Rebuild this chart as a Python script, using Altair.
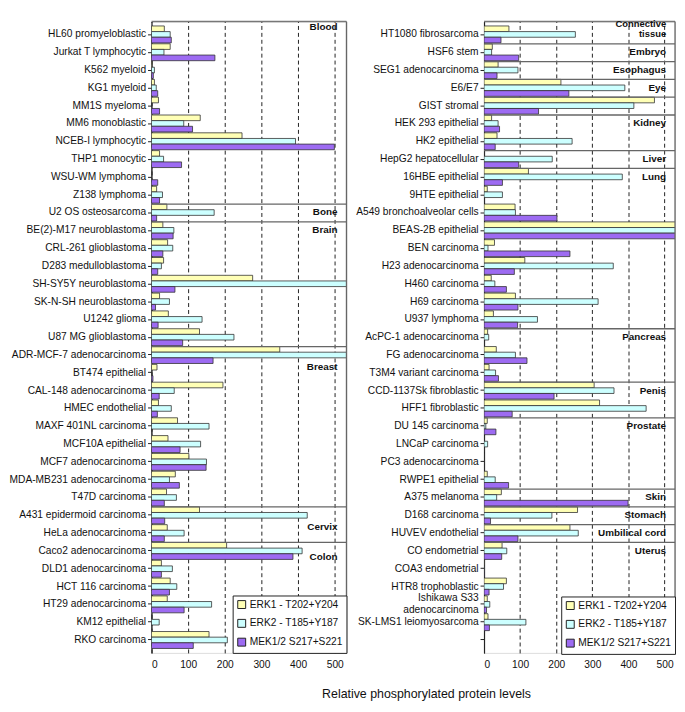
import altair as alt
import pandas as pd

FONT = "Liberation Sans"

series = ["ERK1 - T202+Y204", "ERK2 - T185+Y187", "MEK1/2 S217+S221"]
colors = ["#FFFFB5", "#CCFFFF", "#9D6BF2"]

# ---------------- left panel ----------------
left_cells = [
    "HL60 promyeloblastic", "Jurkat T lymphocytic", "K562 myeloid", "KG1 myeloid",
    "MM1S myeloma", "MM6 monoblastic", "NCEB-I lymphocytic", "THP1 monocytic",
    "WSU-WM lymphoma", "Z138 lymphoma",
    "U2 OS osteosarcoma",
    "BE(2)-M17 neuroblastoma", "CRL-261 glioblastoma", "D283 medulloblastoma",
    "SH-SY5Y neuroblastoma", "SK-N-SH neuroblastoma", "U1242 glioma", "U87 MG glioblastoma",
    "ADR-MCF-7 adenocarcinoma", "BT474 epithelial", "CAL-148 adenocarcinoma",
    "HMEC endothelial", "MAXF 401NL carcinoma", "MCF10A epithelial",
    "MCF7 adenocarcinoma", "MDA-MB231 adenocarcinoma", "T47D carcinoma",
    "A431 epidermoid carcinoma", "HeLa adenocarcinoma",
    "Caco2 adenocarcinoma", "DLD1 adenocarcinoma", "HCT 116 carcinoma",
    "HT29 adenocarcinoma", "KM12 epithelial", "RKO carcinoma",
]
left_groups = [("Blood", 10), ("Bone", 1), ("Brain", 7), ("Breast", 9), ("Cervix", 2), ("Colon", 6)]
left_erk1 = [35, 51, 2, 8, 19, 133, 247, 22, 0, 14,
             42,
             31, 44, 33, 276, 22, 46, 131,
             350, 15, 195, 19, 71, 45, 102, 65, 41,
             131, 43,
             205, 27, 51, 43, 0, 157]
left_erk2 = [51, 34, 8, 13, 0, 88, 393, 33, 0, 30,
             171,
             61, 58, 27, 560, 49, 138, 225,
             560, 0, 62, 54, 157, 134, 150, 49, 68,
             425, 89,
             411, 57, 69, 164, 21, 207]
left_mek = [54, 173, 5, 17, 22, 112, 499, 82, 17, 22,
            14,
            59, 31, 17, 64, 11, 18, 85,
            168, 4, 21, 16, 0, 78, 149, 76, 35,
            36, 35,
            386, 27, 49, 89, 0, 114]

# ---------------- right panel ----------------
right_cells = [
    "HT1080 fibrosarcoma", "HSF6 stem", "SEG1 adenocarcinoma", "E6/E7", "GIST stromal",
    "HEK 293 epithelial", "HK2 epithelial", "HepG2 hepatocellular",
    "16HBE epithelial", "9HTE epithelial", "A549 bronchoalveolar cells", "BEAS-2B epithelial",
    "BEN carcinoma", "H23 adenocarcinoma", "H460 carcinoma", "H69 carcinoma", "U937 lymphoma",
    "AcPC-1 adenocarcinoma", "FG adenocarcinoma", "T3M4 variant carcinoma",
    "CCD-1137Sk fibroblastic", "HFF1 fibroblastic",
    "DU 145 carcinoma", "LNCaP carcinoma", "PC3 adenocarcinoma", "RWPE1 epithelial",
    "A375 melanoma", "D168 carcinoma", "HUVEV endothelial",
    "CO endometrial", "COA3 endometrial", "HTR8 trophoblastic",
    "Ishikawa S33|adenocarcinoma", "SK-LMS1 leiomyosarcoma", " ",
]
right_groups = [("Connective\ntissue", 1), ("Embryo", 1), ("Esophagus", 1), ("Eye", 1), ("", 1),
                ("Kidney", 2), ("Liver", 1), ("Lung", 9), ("Pancreas", 3), ("Penis", 2),
                ("Prostate", 4), ("Skin", 1), ("Stomach", 1), ("Umbilical cord", 1), ("Uterus", 6)]
right_erk1 = [69, 23, 39, 213, 472, 21, 36, 0,
              123, 9, 86, 560, 29, 113, 20, 87, 26,
              10, 34, 14, 305, 320,
              9, 0, 0, 9, 48, 259, 238,
              50, 1, 62, 9, 11]
right_erk2 = [253, 21, 94, 390, 415, 39, 244, 189,
              383, 51, 87, 560, 11, 358, 30, 316, 148,
              13, 87, 32, 360, 449,
              5, 10, 0, 31, 35, 188, 261,
              63, 1, 54, 16, 116]
right_mek = [47, 96, 36, 235, 151, 43, 31, 96,
             51, 0, 202, 560, 238, 84, 62, 94, 93,
             0, 119, 40, 194, 78,
             33, 0, 0, 68, 399, 18, 94,
             49, 1, 14, 7, 15]

# label placement (row offset within group, band position, pixel dy, font size) -- style only
left_label_pos = {"Blood": (0, 0.0, 1, 10), "Bone": (0, 0.5, -1, 10), "Brain": (0, 0.5, 0, 10),
                  "Breast": (1, 0.0, 3, 10), "Cervix": (1, 0.0, 2, 10), "Colon": (0, 0.85, 0, 10)}
right_label_pos = {"Connective\ntissue": (0, 0.0, -1.5, 9.5)}

H = 638
LABEL_FS = 10.3
GROUP_LINE_H = 10


def panel(cells, groups, vals, width, xmax, extent, label_pos, lx, ly):
    rows = []
    for s, arr in zip(series, vals):
        for c, v in zip(cells, arr):
            rows.append({"cell": c, "series": s, "value": v})
    bars_df = pd.DataFrame(rows)
    yscale = alt.Scale(domain=cells, paddingInner=0.05, paddingOuter=0.25)
    two_line = [c for c in cells if "|" in c]
    if two_line:
        test = " || ".join("datum.value == '%s'" % c for c in two_line)
        loff = alt.condition(test, alt.value(-6), alt.value(0))
    else:
        loff = 0

    bars = alt.Chart(bars_df).mark_bar(stroke="#333", strokeWidth=0.8, clip=True).encode(
        y=alt.Y("cell:N", scale=yscale,
                axis=alt.Axis(title=None, labelExpr="split(datum.label, '|')",
                              labelFontSize=LABEL_FS, labelLineHeight=12, labelPadding=2,
                              labelOffset=loff,
                              tickSize=4, tickColor="#222", domainColor="#222",
                              domainWidth=1.2, labelColor="#111", labelOverlap=False,
                              minExtent=extent, maxExtent=extent, labelFont=FONT)),
        x=alt.X("value:Q", scale=alt.Scale(domain=[0, xmax], nice=False),
                axis=alt.Axis(values=[0, 100, 200, 300, 400, 500], title=None, domain=False,
                              ticks=False, grid=True, gridDash=[4, 3], gridColor="#222",
                              gridWidth=1, labelFontSize=10.3, labelPadding=7,
                              labelColor="#111", labelFont=FONT)),
        yOffset=alt.YOffset("series:N", scale=alt.Scale(domain=series, paddingInner=0, paddingOuter=0)),
        color=alt.Color("series:N", scale=alt.Scale(domain=series, range=colors),
                        legend=alt.Legend(title=None, orient="none", legendX=lx, legendY=ly,
                                          fillColor="white", strokeColor="#222", padding=4,
                                          rowPadding=6, symbolType="square", symbolSize=64,
                                          symbolStrokeColor="#222", symbolStrokeWidth=1,
                                          labelFontSize=10.3, labelOffset=3, labelColor="#111",
                                          labelFont=FONT)),
    )

    starts = []
    idx = 0
    for g, n in groups:
        starts.append((g, idx))
        idx += n
    sep_df = pd.DataFrame({"cell": [cells[i] for g, i in starts[1:]]})
    seps = alt.Chart(sep_df).mark_rule(color="#666", strokeWidth=1.3).encode(
        y=alt.Y("cell:N", bandPosition=0, scale=yscale),
        x=alt.value(0), x2=alt.value(width))

    one = pd.DataFrame({"k": [0]})
    top = alt.Chart(one).mark_rule(color="#777", strokeWidth=1.5).encode(
        x=alt.value(0), x2=alt.value(width), y=alt.value(0))
    right = alt.Chart(one).mark_rule(color="#666", strokeWidth=1.3).encode(
        x=alt.value(width), y=alt.value(0), y2=alt.value(H))

    layers = [bars, seps, top, right]
    for g, i in starts:
        if not g:
            continue
        off, bp, dy, fs = label_pos.get(g, (0, 0.5, 0, 10))
        for k, line in enumerate(g.split("\n")):
            tdf = pd.DataFrame({"cell": [cells[i + off]], "label": [line]})
            layers.append(alt.Chart(tdf).mark_text(
                align="right", baseline="middle", fontWeight="bold", fontSize=fs,
                dy=dy + k * GROUP_LINE_H, color="#111", font=FONT).encode(
                y=alt.Y("cell:N", bandPosition=bp, scale=yscale),
                x=alt.value(width - 9), text="label:N"))
    return alt.layer(*layers).properties(width=width, height=H)


left = panel(left_cells, left_groups, [left_erk1, left_erk2, left_mek], 197, 532, 140,
             left_label_pos, 82, 580)
rightp = panel(right_cells, right_groups, [right_erk1, right_erk2, right_mek], 193, 529, 128,
               right_label_pos, 78, 581)

chart = alt.hconcat(left, rightp, spacing=6).resolve_scale(color="independent").resolve_legend(
    color="independent").properties(
    title=alt.TitleParams("Relative phosphorylated protein levels", orient="bottom",
                          anchor="middle", fontSize=12.5, fontWeight="normal", font=FONT,
                          color="#111", offset=18, dx=85),
    padding={"left": 0, "top": 7, "right": 0, "bottom": 0},
).configure_view(stroke=None).configure(font=FONT)

chart.save("out.html", embed_options={"renderer": "svg", "actions": False})
